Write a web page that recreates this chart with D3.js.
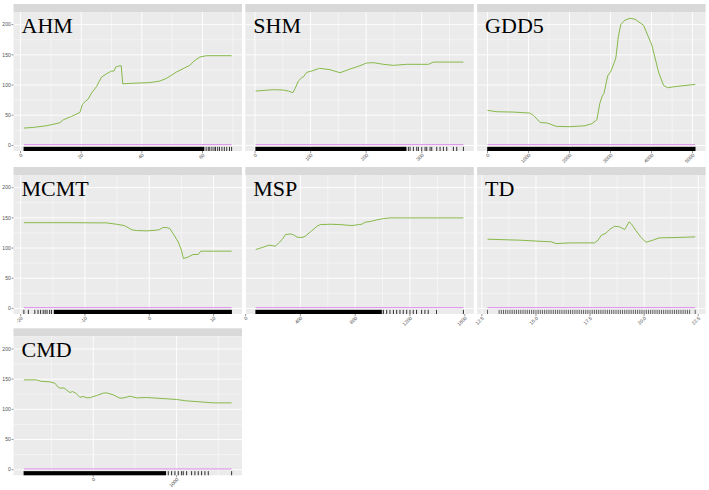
<!DOCTYPE html>
<html><head><meta charset="utf-8">
<script src="https://cdn.jsdelivr.net/npm/d3@7"></script>
<style>body{margin:0;background:#fff}</style>
</head><body><svg id="c" width="709" height="490"></svg>
<script>
// ---------- DATA ----------
const panelNames = ["AHM","SHM","GDD5","MCMT","MSP","TD","CMD"];
const yTicks = [0,50,100,150,200];
const pinkLevel = [1.2,1.2,1.2,1.2,1.2,1.2,1.2];

const ahmX = [1.1,4.2,8.6,13,14.1,16.8,19.6,20.4,21.5,22.3,23.4,25.1,26.7,28.4,30,30.8,31.4,32.4,33.2,33.7,37.1,42.6,45.9,48.1,51.4,53.6,55.8,57.5,59.1,61.3,69.6];
const ahmY = [28.7,29.8,32.6,37.6,42.5,48,54.7,68,73.5,76.8,86.7,97.8,113,118.8,123.2,123,130,131.5,132,102,103,104,106.6,111,121.5,127,132.6,140.9,146.4,148.6,148.6];
const ahmTicks = [0,20,40,60];
const ahmRugBands = [[1.1,60.5]];
const ahmRugTicks = [61.2,61.9,62.4,63.1,63.8,64.3,65.0,65.6,66.4,67.2,68.0,68.9,69.6];

const shmX = [1.2,33,51,60,68,72,78,84,88,93,102,116,135,153,171,186,201,213,231,249,273,312,321,375];
const shmY = [90,92.3,91.7,90,87.3,94,106.6,112,114.4,121,123.2,127.6,125.4,120.4,126.5,131,136.5,137,134.3,132.6,134.3,134.3,138,138];
const shmTicks = [0,100,200,300];
const shmRugBands = [[1.2,272]];
const shmRugTicks = [276,279,285,291,294,300,306,309,315,318,327,333,339,345,357,363,375];

const gddX = [0,228,634,1024,1122,1285,1463,1675,2016,2382,2545,2667,2740,2800,2840,2930,3010,3090,3130,3190,3250,3350,3480,3600,3720,3805,4008,4171,4293,4390,4618,5065];
const gddY = [58,55.8,55.2,53.6,49.7,38,37,31.5,31,32.6,36,42.5,70,82,86,115,123,137,145,180,200,207.5,210.5,209,203,199,166,121.5,99.4,95.6,97.8,101];
const gddTicks = [0,1000,2000,3000,4000,5000];
const gddRugBands = [[0,5065]];
const gddRugTicks = [];

const mcmtX = [-19.5,-12.8,-6.6,-5.1,-3.9,-3.3,-2.7,-2,-0.4,1.1,1.6,2.1,2.7,3.2,3.7,4.5,5,5.3,6.1,6.8,7.6,8,10.5,12.8];
const mcmtY = [142,142,141.6,139.4,137.2,133.9,130,129,128.4,129.5,130.6,133.9,133.9,132.2,124,110,96.4,82.6,85.4,89.3,89.3,94.8,94.8,94.8];
const mcmtTicks = [-20,-10,0,10];
const mcmtRugBands = [[-14.8,12.8]];
const mcmtRugTicks = [-19.5,-18.8,-17.8,-17.3,-16.9,-16.5,-16.2,-15.9,-15.5,-15.2];

const mspX = [74,121,170,194,218,242,267,291,327,351,376,412,436,473,521,545,618,691,776,824,848,873,909,958,1006,1054,1176,1590];
const mspY = [97.5,100.8,104.7,104,103,108.5,114,122.3,123.4,121.8,118,117.4,119.6,126.7,136,138.8,139.4,138.8,137.2,138.8,139.4,142.7,143.8,146.6,148.8,149.9,149.9,149.9];
const mspTicks = [0,400,800,1200,1600];
const mspRugBands = [[74,990]];
const mspRugTicks = [994,1006,1030,1054,1079,1103,1127,1151,1176,1200,1224,1248,1285,1309,1333,1394,1590];

const tdX = [12.76,14.26,15.72,15.92,16.56,17.71,17.87,18.02,18.25,18.4,18.63,18.87,19.1,19.17,19.3,19.4,19.63,19.86,20.09,20.4,20.7,21.47,22.36];
const tdY = [114.6,113,110.2,107.4,108.5,108.5,113,121.2,125,130.6,136,135,130.6,135,143.2,140.5,128.4,117.4,109.6,113,116.8,117.4,118.5];
const tdTicks = [12.5,15,17.5,20,22.5];
const tdRugBands = [];
const tdRugTicks = [12.76,13.3,13.4,13.5,13.6,13.7,13.8,13.9,14.0,14.1,14.2,14.3,14.4,14.5,14.6,14.7,14.8,14.9,15.0,15.1,15.2,15.3,15.4,15.5,15.6,15.7,15.8,15.9,16.0,16.1,16.2,16.3,16.4,16.5,16.6,16.7,16.8,16.9,17.0,17.1,17.2,17.3,17.4,17.5,17.6,17.7,17.8,17.9,18.0,18.1,18.2,18.3,18.4,18.5,18.6,18.7,18.8,18.9,19.0,19.1,19.2,19.3,19.4,19.5,19.6,19.7,19.8,19.9,20.0,20.1,20.2,20.3,20.4,20.5,20.6,20.7,20.8,20.9,21.0,21.1,21.2,21.3,21.4,21.5,21.6,21.7,21.8,21.9,22.0,22.1,22.36];

const cmdX = [-832,-680,-632,-520,-460,-420,-392,-352,-320,-280,-248,-208,-160,-120,-72,-32,40,120,160,240,320,368,440,520,640,880,1000,1120,1280,1440,1660];
const cmdY = [148.8,148.8,146.6,145.5,143.3,136.6,135,135.5,132.2,127.8,129.5,126.7,120,121.2,119,119.6,122.9,126.7,127.3,124,118.5,119,121.8,119,119.6,117.4,116.3,114,112.4,110.7,110.7];
const cmdTicks = [0,1000];
const cmdRugBands = [[-832,870]];
const cmdRugTicks = [900,940,980,1020,1060,1080,1120,1180,1220,1260,1300,1340,1380,1660];

const panels = [
  {name:panelNames[0], x:ahmX, y:ahmY, ticks:ahmTicks, fmt:d=>String(d), bands:ahmRugBands, rug:ahmRugTicks},
  {name:panelNames[1], x:shmX, y:shmY, ticks:shmTicks, fmt:d=>String(d), bands:shmRugBands, rug:shmRugTicks},
  {name:panelNames[2], x:gddX, y:gddY, ticks:gddTicks, fmt:d=>String(d), bands:gddRugBands, rug:gddRugTicks},
  {name:panelNames[3], x:mcmtX, y:mcmtY, ticks:mcmtTicks, fmt:d=>String(d), bands:mcmtRugBands, rug:mcmtRugTicks},
  {name:panelNames[4], x:mspX, y:mspY, ticks:mspTicks, fmt:d=>String(d), bands:mspRugBands, rug:mspRugTicks},
  {name:panelNames[5], x:tdX, y:tdY, ticks:tdTicks, fmt:d=>d.toFixed(1), bands:tdRugBands, rug:tdRugTicks},
  {name:panelNames[6], x:cmdX, y:cmdY, ticks:cmdTicks, fmt:d=>String(d), bands:cmdRugBands, rug:cmdRugTicks}
];

// ---------- LAYOUT ----------
const svg = d3.select("#c");
const W = 228.5, H = 139, stripH = 8;
const colX = [13.5, 245.3, 477.1];
const rowY = [12, 175, 336.3];
const green = "#86B94A", pink = "#D98BE6";
const serifFont = "'Liberation Serif', 'Times New Roman', serif";
const sansFont = "'Liberation Sans', Arial, sans-serif";

const allY = panels.flatMap(p=>p.y).concat(pinkLevel);
const yExt = d3.extent(allY), yPad = (yExt[1]-yExt[0])*0.05;
const yDom = [yExt[0]-yPad, yExt[1]+yPad];

panels.forEach((p,i)=>{
  const col = i%3, row = Math.floor(i/3);
  const g = svg.append("g").attr("transform",`translate(${colX[col]},${rowY[row]})`);
  g.append("rect").attr("x",0).attr("y",-stripH).attr("width",W).attr("height",stripH).attr("fill","#D9D9D9");
  g.append("rect").attr("width",W).attr("height",H).attr("fill","#EBEBEB");

  const ext = d3.extent(p.x), pad = (ext[1]-ext[0])*0.05;
  const x = d3.scaleLinear().domain([ext[0]-pad, ext[1]+pad]).range([0,W]);
  const y = d3.scaleLinear().domain(yDom).range([H,0]);

  // minor grid
  const step = p.ticks[1]-p.ticks[0];
  const xMinor = [];
  for (let v = p.ticks[0]-step/2; v <= p.ticks[p.ticks.length-1]+step/2+1e-9; v += step) {
    if (v>=x.domain()[0] && v<=x.domain()[1]) xMinor.push(v);
  }
  const yMinor = [];
  for (let v = yTicks[0]-25; v <= yTicks[yTicks.length-1]+25; v += 50) {
    if (v>=yDom[0] && v<=yDom[1]) yMinor.push(v);
  }
  g.selectAll(".xm").data(xMinor).join("line").attr("x1",d=>x(d)).attr("x2",d=>x(d)).attr("y1",0).attr("y2",H)
    .attr("stroke","#fff").attr("stroke-width",0.45);
  g.selectAll(".ym").data(yMinor).join("line").attr("y1",d=>y(d)).attr("y2",d=>y(d)).attr("x1",0).attr("x2",W)
    .attr("stroke","#fff").attr("stroke-width",0.45);
  const xMaj = p.ticks.filter(v=>v>=x.domain()[0] && v<=x.domain()[1]);
  g.selectAll(".xM").data(xMaj).join("line").attr("x1",d=>x(d)).attr("x2",d=>x(d)).attr("y1",0).attr("y2",H)
    .attr("stroke","#fff").attr("stroke-width",0.9);
  g.selectAll(".yM").data(yTicks).join("line").attr("y1",d=>y(d)).attr("y2",d=>y(d)).attr("x1",0).attr("x2",W)
    .attr("stroke","#fff").attr("stroke-width",0.9);

  // pink line
  g.append("path").datum([ext[0], ext[1]]).attr("fill","none").attr("stroke",pink).attr("stroke-width",1)
    .attr("d", d3.line().x(d=>x(d)).y(()=>y(pinkLevel[i])));
  // green line
  const pts = p.x.map((v,k)=>[v,p.y[k]]);
  g.append("path").datum(pts).attr("fill","none").attr("stroke",green).attr("stroke-width",1)
    .attr("stroke-linejoin","round")
    .attr("d", d3.line().x(d=>x(d[0])).y(d=>y(d[1])));

  // rug
  const rugLen = H*0.03;
  g.selectAll(".rb").data(p.bands).join("rect").attr("x",d=>x(d[0])-0.3).attr("width",d=>x(d[1])-x(d[0])+0.6)
    .attr("y",H-rugLen).attr("height",rugLen).attr("fill","#000");
  g.selectAll(".rt").data(p.rug).join("line").attr("x1",d=>x(d)).attr("x2",d=>x(d)).attr("y1",H-rugLen).attr("y2",H)
    .attr("stroke","#000").attr("stroke-width", p.bands.length? 0.8 : 0.6);

  // x axis ticks & labels
  g.selectAll(".xt").data(xMaj).join("line").attr("x1",d=>x(d)).attr("x2",d=>x(d)).attr("y1",H).attr("y2",H+2)
    .attr("stroke","#333").attr("stroke-width",0.5);
  g.selectAll(".xl").data(xMaj).join("text")
    .attr("transform",d=>`translate(${x(d)+1.2},${H+3.2}) rotate(-45)`)
    .attr("text-anchor","end").attr("dy","0.35em")
    .style("font-family",sansFont).style("font-size","5px").attr("fill","#4D4D4D")
    .text(d=>p.fmt(d));

  // y axis on first column
  if (col===0) {
    g.selectAll(".yt").data(yTicks).join("line").attr("x1",-2).attr("x2",0).attr("y1",d=>y(d)).attr("y2",d=>y(d))
      .attr("stroke","#333").attr("stroke-width",0.5);
    g.selectAll(".yl").data(yTicks).join("text").attr("x",-2.8).attr("y",d=>y(d)).attr("dy","0.35em")
      .attr("text-anchor","end").style("font-family",sansFont).style("font-size","5px")
      .attr("fill","#4D4D4D").text(d=>d);
  }

  // panel label
  g.append("text").attr("x",8).attr("y",20.5)
    .style("font-family",serifFont).style("font-size","22px").attr("fill","#000").text(p.name);
});
</script></body></html>
